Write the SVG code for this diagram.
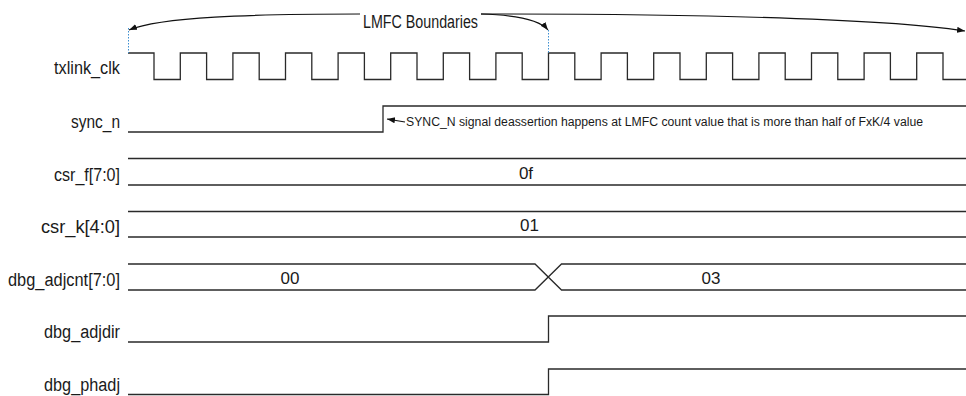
<svg xmlns="http://www.w3.org/2000/svg" width="966" height="396" viewBox="0 0 966 396">
<style>
.bg{fill:#ffffff}
.lbl{font-family:"Liberation Sans",Arial,sans-serif;font-size:18px;fill:#1a1a1a;text-anchor:end}
.val{font-family:"Liberation Sans",Arial,sans-serif;font-size:17px;fill:#1a1a1a;text-anchor:middle}
.note{font-family:"Liberation Sans",Arial,sans-serif;font-size:12px;fill:#1a1a1a}
.title{font-family:"Liberation Sans",Arial,sans-serif;font-size:18px;fill:#1a1a1a}
.wave{fill:none;stroke:#2a2a2a;stroke-width:1.3}
.arc{fill:none;stroke:#111;stroke-width:1.1}
.dot{fill:none;stroke:#3d8fd1;stroke-width:1;stroke-dasharray:1.5,1.5}
</style>
<defs>
<marker id="ah" markerWidth="9" markerHeight="7" refX="8" refY="3" orient="auto" markerUnits="userSpaceOnUse">
<path d="M0,0 L8,3 L0,6 z" fill="#111"/>
</marker>
</defs>
<rect class="bg" x="0" y="0" width="966" height="396"/>

<g id="txlink_clk">
<text class="lbl" x="120" y="74" textLength="66" lengthAdjust="spacingAndGlyphs">txlink_clk</text>
<path class="wave" d="M128 53 H154 V79.5 H180.3 V53 H206.6 V79.5 H232.9 V53 H259.2 V79.5 H285.5 V53 H311.8 V79.5 H338.1 V53 H364.4 V79.5 H390.7 V53 H417 V79.5 H443.3 V53 H469.6 V79.5 H495.9 V53 H522.2 V79.5 H548.5 V53 H574.8 V79.5 H601.1 V53 H627.4 V79.5 H653.7 V53 H680 V79.5 H706.3 V53 H732.6 V79.5 H758.9 V53 H785.2 V79.5 H811.5 V53 H837.8 V79.5 H864.1 V53 H890.4 V79.5 H916.7 V53 H943 V79.5 H966"/>
</g>

<g id="sync_n">
<text class="lbl" x="120" y="128" textLength="49" lengthAdjust="spacingAndGlyphs">sync_n</text>
<path class="wave" d="M128 132 H383 V106 H966"/>
</g>

<g id="csr_f">
<text class="lbl" x="120" y="181" textLength="66" lengthAdjust="spacingAndGlyphs">csr_f[7:0]</text>
<path class="wave" d="M128 158.5 H966 M128 185 H966"/>
<text class="val" x="526" y="179">0f</text>
</g>

<g id="csr_k">
<text class="lbl" x="120" y="233" textLength="79" lengthAdjust="spacingAndGlyphs">csr_k[4:0]</text>
<path class="wave" d="M128 211.5 H966 M128 237 H966"/>
<text class="val" x="529.5" y="231">01</text>
</g>

<g id="dbg_adjcnt">
<text class="lbl" x="120" y="286" textLength="112" lengthAdjust="spacingAndGlyphs">dbg_adjcnt[7:0]</text>
<path class="wave" d="M128 264 H535 L561.5 290 H966 M128 290 H535 L561.5 264 H966"/>
<text class="val" x="290" y="284">00</text>
<text class="val" x="711" y="284">03</text>
</g>

<g id="dbg_adjdir">
<text class="lbl" x="120" y="338" textLength="76" lengthAdjust="spacingAndGlyphs">dbg_adjdir</text>
<path class="wave" d="M128 342 H548.5 V316 H966"/>
</g>

<g id="dbg_phadj">
<text class="lbl" x="120" y="391" textLength="76" lengthAdjust="spacingAndGlyphs">dbg_phadj</text>
<path class="wave" d="M128 394.5 H548.5 V369 H966"/>
</g>

<g id="lmfc_label">
<text class="title" x="363" y="28" textLength="115" lengthAdjust="spacingAndGlyphs">LMFC Boundaries</text>
</g>

<g id="sync_note">
<text class="note" x="406" y="126" textLength="517" lengthAdjust="spacingAndGlyphs">SYNC_N signal deassertion happens at LMFC count value that is more than half of FxK/4 value</text>
</g>

<g id="connectors">
<line class="dot" x1="128.5" y1="28" x2="128.5" y2="53"/>
<line class="dot" x1="548.5" y1="30" x2="548.5" y2="53"/>
<path class="arc" d="M360 14 C250 14 160 17 129 30" marker-end="url(#ah)"/>
<path class="arc" d="M481 14 C515 15 540 20 548 30" marker-end="url(#ah)"/>
<path class="arc" d="M481 14 C700 14 880 18 965 31" marker-end="url(#ah)"/>
<path class="arc" d="M405 122 L387 119" marker-end="url(#ah)"/>
</g>
</svg>
